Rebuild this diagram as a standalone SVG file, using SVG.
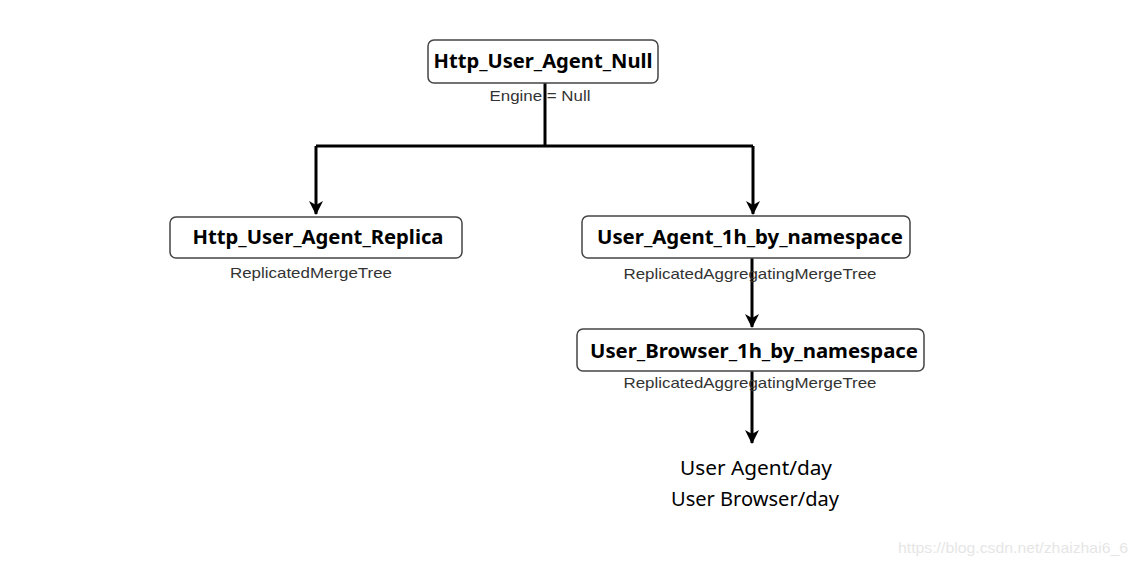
<svg xmlns="http://www.w3.org/2000/svg" width="1138" height="566" viewBox="0 0 1138 566">
<style>
.box{fill:#fff;stroke:#444;stroke-width:1.5}
.title{font-family:"Noto Sans","Open Sans",sans-serif;font-weight:bold;font-size:20px;fill:#000;text-anchor:middle}
.sub{font-family:"Liberation Sans",Arial,sans-serif;font-size:15px;fill:#333;text-anchor:middle}
.out{font-family:"Noto Sans","Open Sans",sans-serif;font-size:19px;fill:#000;text-anchor:middle}
.edge{fill:none;stroke:#000;stroke-width:3}
.wm{font-family:"Liberation Sans",Arial,sans-serif;font-size:15px;fill:#e6e6e6}
</style>
<defs>
<marker id="arr" viewBox="0 0 14 14" refX="13" refY="7" markerWidth="14" markerHeight="14" markerUnits="userSpaceOnUse" orient="auto">
<path d="M0,0 L14,7 L0,14 L4,7 Z" fill="#000"/>
</marker>
</defs>
<rect width="1138" height="566" fill="#fff"/>
<g id="connectors">
<path class="edge" d="M545,83 V146"/>
<path class="edge" d="M316,146 H753" />
<path class="edge" d="M316,146 V214" marker-end="url(#arr)"/>
<path class="edge" d="M753,146 V214" marker-end="url(#arr)"/>
<path class="edge" d="M752,258 V327" marker-end="url(#arr)"/>
<path class="edge" d="M752,371 V443" marker-end="url(#arr)"/>
</g>
<g id="n1">
<rect class="box" x="428" y="40" width="230" height="43" rx="6"/>
<text class="title" x="543" y="68" textLength="219" lengthAdjust="spacingAndGlyphs">Http_User_Agent_Null</text>
<text class="sub" x="540" y="101" textLength="101" lengthAdjust="spacingAndGlyphs">Engine = Null</text>
</g>
<g id="n2">
<rect class="box" x="170" y="217" width="292" height="41" rx="6"/>
<text class="title" x="318" y="244" textLength="251" lengthAdjust="spacingAndGlyphs">Http_User_Agent_Replica</text>
<text class="sub" x="311" y="278" textLength="162" lengthAdjust="spacingAndGlyphs">ReplicatedMergeTree</text>
</g>
<g id="n3">
<rect class="box" x="582" y="216" width="328" height="42" rx="6"/>
<text class="title" x="750" y="244" textLength="306" lengthAdjust="spacingAndGlyphs">User_Agent_1h_by_namespace</text>
<text class="sub" x="750" y="279" textLength="253" lengthAdjust="spacingAndGlyphs">ReplicatedAggregatingMergeTree</text>
</g>
<g id="n4">
<rect class="box" x="577" y="329" width="347" height="42" rx="6"/>
<text class="title" x="754" y="358" textLength="328" lengthAdjust="spacingAndGlyphs">User_Browser_1h_by_namespace</text>
<text class="sub" x="750" y="388" textLength="253" lengthAdjust="spacingAndGlyphs">ReplicatedAggregatingMergeTree</text>
</g>
<g id="n5">
<text class="out" x="756" y="475" textLength="152" lengthAdjust="spacingAndGlyphs">User Agent/day</text>
<text class="out" x="755" y="506" textLength="168" lengthAdjust="spacingAndGlyphs">User Browser/day</text>
</g>
<text class="wm" x="898" y="553" textLength="230" lengthAdjust="spacingAndGlyphs">https://blog.csdn.net/zhaizhai6_6</text>
</svg>
